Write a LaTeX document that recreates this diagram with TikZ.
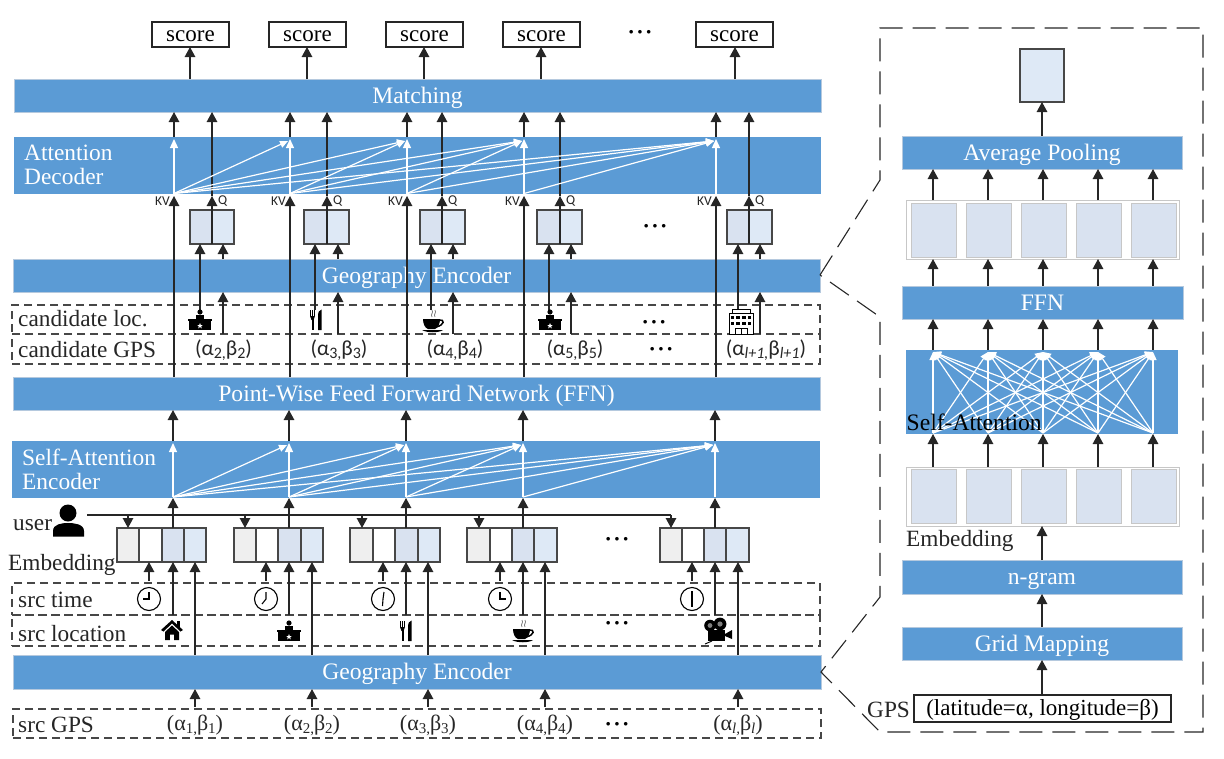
\documentclass[tikz,border=0pt]{standalone}
\usepackage{fontspec}
\setmainfont{Liberation Serif}
\newfontfamily\calfont{Carlito}
\usetikzlibrary{arrows.meta}
\definecolor{barblue}{HTML}{5B9BD5}
\definecolor{barline}{HTML}{B5C9DE}
\definecolor{cellA}{HTML}{EFEFEF}
\definecolor{cellC}{HTML}{D9E2F0}
\definecolor{cellD}{HTML}{DEE9F6}
\definecolor{ink}{HTML}{262626}
\newcommand\lowtxt[1]{\raisebox{-3.5pt}{\fontsize{15}{15}\selectfont #1}}
\newcommand\lowcal[1]{\raisebox{-3.5pt}{\fontsize{16}{16}\selectfont #1}}
\newcommand\threedots{·\kern1.5pt·\kern1.5pt·}
\newcommand\bx[7]{\node[#2,minimum width={(#5-#3)*1pt},minimum height={(#6-#4)*1pt}] (#1) at ({(#3+#5)/2},{(#4+#6)/2}) {#7};}
\newcommand\iconclock[6]{\begin{scope}[shift={(#1,#2)}]\draw[line width=1.1pt,black] (0,0) circle (11.5pt);\draw[line width=1.1pt,black] (#3,#4) -- (0,0) -- (#5,#6);\end{scope}}
\newcommand\icondesk[2]{\begin{scope}[shift={(#1,#2)}]\fill (0,-9) circle (2.6pt);\fill (-4,-1) rectangle (4,-6);\fill (-12,-2) rectangle (12,0);\fill (-11,0) rectangle (11,9);\fill[white] (0,2) -- (.8,4) -- (2.8,4) -- (1.2,5.2) -- (1.8,7.4) -- (0,6) -- (-1.8,7.4) -- (-1.2,5.2) -- (-2.8,4) -- (-.8,4) -- cycle;\end{scope}}
\newcommand\iconfork[2]{\begin{scope}[shift={(#1,#2)}]\fill (-6,-10) rectangle (-5,-4);\fill (-4,-10) rectangle (-3,-4);\fill (-2,-10) rectangle (-1,-4);\fill (-6,-4) -- (-1,-4) -- (-2.5,0) -- (-4.5,0) -- cycle;\fill (-4.5,-1) rectangle (-2.5,10);\fill (2,10) -- (2,-3) .. controls (2,-8) and (3,-10) .. (5.5,-10.5) -- (5.5,10) -- cycle;\end{scope}}
\newcommand\iconcup[2]{\begin{scope}[shift={(#1,#2)}]\fill (-10,-3) -- (7,-3) .. controls (7,2) and (5,6) .. (2,7) -- (-5,7) .. controls (-8,6) and (-10,2) .. (-10,-3) -- cycle;\draw[line width=1.5pt] (6,-2) .. controls (12,-3) and (12,3) .. (3,5);\fill (-11,8) -- (10,8) .. controls (6,11) and (-6,11) .. (-11,8) -- cycle;\draw[gray,line width=.8pt] (-1,-5) .. controls (-3,-8) and (1,-9) .. (-1,-12);\draw[gray,line width=.8pt] (2,-5) .. controls (0,-8) and (4,-9) .. (2,-12);\end{scope}}
\newcommand\iconhouse[2]{\begin{scope}[shift={(#1,#2)}]\fill (0,-12) -- (11,-2) -- (8.5,-.5) -- (0,-8.5) -- (-8.5,-.5) -- (-11,-2) -- cycle;\fill (5,-11) rectangle (8,-5);\fill (-7,0) -- (0,-6.5) -- (7,0) -- (7,8) -- (2.2,8) -- (2.2,2.5) -- (-2.2,2.5) -- (-2.2,8) -- (-7,8) -- cycle;\end{scope}}
\newcommand\iconbuilding[2]{\begin{scope}[shift={(#1,#2)}]\draw[line width=1pt,fill=white] (-12,-9) rectangle (12,12);\draw[line width=1pt] (-9,-9) -- (-9,-13) -- (9,-13) -- (9,-9);\foreach \u in {-8.5,-3,3,8.5}{\foreach \v in {-6,-0.5}{\fill (\u-1.6,\v) rectangle (\u+1.6,\v+3.4);}}\draw[line width=1pt] (-6,12) -- (-6,6.5) -- (6,6.5) -- (6,12) (0,6.5) -- (0,12);\end{scope}}
\newcommand\iconcamera[2]{\begin{scope}[shift={(#1,#2)}]\fill (-7,-9.5) circle (5.8pt);\fill (3,-11) circle (6.4pt);\fill[gray] (-7,-9.5) circle (2.4pt);\fill[gray] (3,-11) circle (2.6pt);\fill (-9,-5) rectangle (8,6);\fill (8,-1) -- (15,-5) -- (15,4) -- (8,1) -- cycle;\draw[line width=.9pt] (-5,6) -- (-12,9);\end{scope}}
\tikzset{
  x=1pt,y=-1pt,
  bar/.style={fill=barblue,draw=barline,line width=1pt,inner sep=0pt,outer sep=0pt,text=white,text height=15pt,text depth=0pt,font=\fontsize{23.6}{27}\selectfont},
  plainbar/.style={fill=barblue,inner sep=0pt,outer sep=0pt},
  scorebox/.style={draw=ink,fill=white,line width=1.2pt,inner sep=0pt,outer sep=0pt,text height=14pt,text depth=0pt,font=\fontsize{23}{27}\selectfont},
  dashrow/.style={draw=ink!85,dash pattern=on 8pt off 5pt,line width=1.05pt,inner sep=0pt,outer sep=0pt},
  cell/.style={draw=ink!85,line width=1.2pt,inner sep=0pt,outer sep=0pt},
  softcell/.style={draw=black!22,fill=cellC,line width=1pt,inner sep=0pt,outer sep=0pt},
  softframe/.style={draw=black!22,fill=white,line width=1pt,inner sep=0pt,outer sep=0pt},
  lab/.style={anchor=west,inner sep=0pt,text=black!85,font=\fontsize{23.3}{27}\selectfont},
  barlab/.style={anchor=west,inner sep=0pt,text=white,align=left,font=\fontsize{23.4}{24}\selectfont},
  calab/.style={inner sep=0pt,text=ink,font=\calfont\fontsize{21.5}{27}\selectfont},
  serlab/.style={inner sep=0pt,text=ink,font=\fontsize{22}{27}\selectfont},
  dotlab/.style={inner sep=0pt,text=black,font=\bfseries\fontsize{22}{24}\selectfont},
  kvlab/.style={inner sep=0pt,text=ink,font=\calfont\fontsize{13.5}{16}\selectfont},
  arr/.style={draw=ink,line width=1.3pt,-{Triangle[width=10.5pt,length=10pt]}},
  whitearr/.style={draw=white,line width=1.3pt,-{Triangle[width=8pt,length=9pt]}},
  fan/.style={draw=white,line width=1.2pt,-{Triangle[width=7pt,length=8pt]}},
}
\begin{document}
\begin{tikzpicture}
\useasboundingbox (0,0) rectangle (1224,758);
% column coordinates
\foreach \n/\kv/\q/\ic/\sc/\qb in {1/174/212/200/190/223,2/290/327/315/307/338,3/407/442/431/424/453,4/524/560/549/541/571,5/716/749/738/735/760}{
  \coordinate (kv\n) at (\kv,196);
  \coordinate (kb\n) at (\kv,193.5);
  \coordinate (kt\n) at (\kv,139);
  \coordinate (kf\n) at ({\kv-2},141);
  \coordinate (q\n) at (\q,196);
  \coordinate (ic\n) at (\ic,310);
  \coordinate (sc\n) at (\sc,47);
  \coordinate (qb\n) at (\qb,334);
}
\foreach \n/\e/\t/\g/\u in {1/173/149/195/128,2/289/266/312/245,3/406/383/428/362,4/523/500/545/479,5/715/692/738/671}{
  \coordinate (en\n) at (\e,615);
  \coordinate (ti\n) at (\t,581);
  \coordinate (gp\n) at (\g,707);
  \coordinate (us\n) at (\u,515);
  \coordinate (sb\n) at (\e,497);
  \coordinate (st\n) at (\e,443);
  \coordinate (sf\n) at ({\e-2},445);
}
\foreach \n/\r in {1/933,2/988,3/1043,4/1098,5/1153}{
  \coordinate (rc\n) at (\r,350);
  \coordinate (rb\n) at (\r,433);
  \coordinate (rt\n) at (\r,352);
}
% left bars
\bx{match}{bar}{14}{79}{821}{112}{Matching}
\bx{attdec}{plainbar}{14}{137}{821}{194}{}
\bx{geotop}{bar}{13}{259}{820}{292}{Geography Encoder}
\bx{ffnbar}{bar}{13}{377}{820}{410}{Point-Wise Feed Forward Network (FFN)}
\bx{selfenc}{plainbar}{12}{441}{820}{498}{}
\bx{geobot}{bar}{13}{655}{821}{689}{Geography Encoder}
\node[barlab] (attdeclab) at (24,165) {Attention\\Decoder};
\node[barlab] (selfenclab) at (22,469) {Self-Attention\\Encoder};
% score boxes
\foreach \n/\a/\b in {1/152/229,2/269/346,3/386/463,4/503/580,5/696/773}{
  \bx{score\n}{scorebox}{\a}{22}{\b}{47}{score}
}
\node[dotlab] (scoredots) at (640,35) {\threedots};
% dashed rows
\bx{candloc}{dashrow}{12}{305}{820}{334}{}
\bx{candgps}{dashrow}{12}{334}{820}{364}{}
\bx{srctime}{dashrow}{12}{583}{820}{615}{}
\bx{srcloc}{dashrow}{12}{615}{820}{646}{}
\bx{srcgps}{dashrow}{13}{709}{821}{738}{}
\node[lab] (l1) at (18,319) {candidate loc.};
\node[lab] (l2) at (18,350) {candidate GPS};
\node[lab] (l3) at (18,600) {src time};
\node[lab] (l4) at (18,634) {src location};
\node[lab] (l5) at (18,725) {src GPS};
\node[lab] (l6) at (13,525.5) {user};
\node[lab] (l7) at (8,565) {Embedding};
% dec boxes
\foreach \n/\a/\m/\b in {1/190/212/234,2/304/327/349,3/420/442/465,4/537/560/582,5/727/749/772}{
  \bx{da\n}{cell,fill=cellC}{\a}{210}{\m}{244}{}
  \bx{db\n}{cell,fill=cellD}{\m}{210}{\b}{244}{}
}
\node[dotlab] (ddots) at (655,229) {\threedots};
% embedding boxes
\foreach \n/\a/\b/\c/\d/\e in {1/117/139/162/184/206,2/234/256/278/301/323,3/350/373/395/418/440,4/467/490/512/534/557,5/660/682/704/726/749}{
  \bx{ea\n}{cell,fill=cellA}{\a}{528}{\b}{562}{}
  \bx{eb\n}{cell,fill=white}{\b}{528}{\c}{562}{}
  \bx{ec\n}{cell,fill=cellC}{\c}{528}{\d}{562}{}
  \bx{ed\n}{cell,fill=cellD}{\d}{528}{\e}{562}{}
}
\node[dotlab] (edots) at (617,542) {\threedots};
% score arrows
\foreach \n in {1,...,5}{
  \draw[arr] (sc\n |- match.north) -- (sc\n |- score\n.south);
}
% attention decoder
\foreach \n in {1,...,5}{
  \draw[whitearr] (kb\n) -- (kt\n);
  \draw[arr] (kt\n |- attdec.north) -- (kt\n |- match.south);
  \draw[arr] (kv\n |- ffnbar.north) -- (kv\n);
  \draw[arr] (q\n |- da\n.south) -- (q\n);
  \draw[arr] (q\n) -- (q\n |- match.south);
  \draw[arr] (ic\n) -- (ic\n |- da\n.south);
  \draw[arr] (qb\n) -- (qb\n |- geotop.south);
  \draw[arr] (qb\n |- geotop.north) -- (qb\n |- da\n.south);
}
\foreach \i/\jlist in {1/{2,3,4,5},2/{3,4,5},3/{4,5},4/{5}}{
  \foreach \j in \jlist {
    \draw[fan] (kb\i) -- (kf\j);
    \draw[fan] (sb\i) -- (sf\j);
  }
}
% encoder
\foreach \n in {1,...,5}{
  \draw[whitearr] (sb\n) -- (st\n);
  \draw[arr] (st\n |- selfenc.north) -- (st\n |- ffnbar.south);
  \draw[arr] (st\n |- ec\n.north) -- (st\n |- selfenc.south);
  \draw[arr] (us\n) -- (us\n |- ea\n.north);
  \draw[arr] (ti\n) -- (ti\n |- ea\n.south);
  \draw[arr] (en\n) -- (en\n |- ec\n.south);
  \draw[arr] (gp\n |- geobot.north) -- (gp\n |- ed\n.south);
  \draw[arr] (gp\n) -- (gp\n |- geobot.south);
}
% user
\fill[black] (68,513) circle (8.5pt);
\fill[black] (53,536.5) -- (53,531) .. controls (53,524) and (62,523) .. (68,523) .. controls (74,523) and (84,524) .. (84,531) -- (84,536.5) -- cycle;
\coordinate (userstart) at (87,515);
\draw[draw=ink,line width=1.1pt] (userstart) -- (us5);
% clocks and icons
\iconclock{149}{599}{0}{-7}{-6}{0}
\iconclock{266}{599}{0}{-7}{-4}{5}
\iconclock{383}{599}{1}{-7}{-.5}{7}
\iconclock{500}{599}{0}{-7}{6}{0}
\iconclock{692}{599}{0}{-8}{0}{8}
\iconhouse{172}{632}
\icondesk{289}{632}
\iconfork{406}{631}
\iconcup{523}{632}
\iconcamera{717}{635}
\icondesk{200}{321}
\iconfork{316}{320}
\iconcup{433}{322}
\icondesk{550}{321}
\iconbuilding{741}{322}
% coordinate labels
\foreach \n/\x/\s in {2/223.5/2,3/339/3,4/455/4,5/575/5}{
  \node[calab] (cg\n) at (\x,350) {(α\lowcal{\s,}β\lowcal{\s})};
}
\node[calab] (cg6) at (766,350) {(α\lowcal{\textit{l+1,}}β\lowcal{\textit{l+1}})};
\foreach \n/\x in {1/195,2/312,3/428,4/545}{
  \node[serlab] (sg\n) at (\x,725.5) {(α\lowtxt{\n,}β\lowtxt{\n})};
}
\node[serlab] (sg5) at (738,725.5) {(α\lowtxt{\textit{l,}}β\lowtxt{\textit{l}})};
\node[dotlab] (cdots1) at (654,325) {\threedots};
\node[dotlab] (cdots2) at (661,352) {\threedots};
\node[dotlab] (sdots1) at (617,626) {\threedots};
\node[dotlab] (sdots2) at (617,727) {\threedots};
% KV Q labels
\foreach \n in {1,...,5}{
  \node[kvlab,anchor=east] (kvl\n) at ([xshift=-4pt]kv\n |- 0,201) {KV};
  \node[kvlab,anchor=west] (ql\n) at ([xshift=6pt]q\n |- 0,201) {Q};
}
% right panel
\coordinate (p1) at (880,180);
\coordinate (p2) at (880,28);
\coordinate (p3) at (1203,28);
\coordinate (p4) at (1203,732);
\coordinate (p5) at (880,732);
\coordinate (p6) at (821,672);
\coordinate (p7) at (880,597);
\coordinate (p8) at (880,317);
\coordinate (p9) at (820,275);
\draw[draw=ink,line width=1.1pt,dash pattern=on 23pt off 10pt] (p9) -- (p1) -- (p2) -- (p3) -- (p4) -- (p5) -- (p6) -- (p7) -- (p8) -- (p9);
\bx{toppool}{cell,fill=cellD}{1020}{49}{1064}{102}{}
\bx{avgpool}{bar}{902}{136}{1182}{169}{Average Pooling}
\bx{frameA}{softframe}{906}{200}{1179}{259}{}
\bx{ffnR}{bar}{902}{286}{1183}{319}{FFN}
\bx{saR}{plainbar}{906}{350}{1178}{434}{}
\bx{frameB}{softframe}{906}{467}{1179}{526}{}
\bx{ngram}{bar}{902}{560}{1182}{594}{n-gram}
\bx{grid}{bar}{902}{627}{1182}{660}{Grid Mapping}
\bx{gpsbox}{scorebox,text height=13pt}{914}{695}{1171}{722}{(latitude=α, longitude=β)}
\foreach \n/\a/\b in {1/911/956,2/966/1011,3/1021/1066,4/1076/1121,5/1131/1176}{
  \bx{ca\n}{softcell}{\a}{203}{\b}{257}{}
  \bx{cb\n}{softcell}{\a}{469}{\b}{523}{}
}
\foreach \n in {1,...,5}{
  \draw[arr] (rc\n |- frameA.north) -- (rc\n |- avgpool.south);
  \draw[arr] (rc\n |- ffnR.north) -- (rc\n |- frameA.south);
  \draw[arr] (rc\n |- saR.north) -- (rc\n |- ffnR.south);
  \draw[arr] (rc\n |- frameB.north) -- (rc\n |- saR.south);
}
\foreach \i in {1,...,5}{
  \foreach \j in {1,...,5}{
    \draw[fan] (rb\i) -- (rt\j);
  }
}
\node[lab,text=black,font=\fontsize{23.6}{27}\selectfont] (selfR) at (906.5,422) {Self-Attention};
\node[lab] (embR) at (906,541) {Embedding};
\node[lab] (gpsR) at (867,710) {GPS};
\draw[arr] (toppool.south |- avgpool.north) -- (toppool.south);
\draw[arr] (toppool.south |- ngram.north) -- (toppool.south |- frameB.south);
\draw[arr] (toppool.south |- grid.north) -- (toppool.south |- ngram.south);
\draw[arr] (toppool.south |- gpsbox.north) -- (toppool.south |- grid.south);
\end{tikzpicture}
\end{document}
